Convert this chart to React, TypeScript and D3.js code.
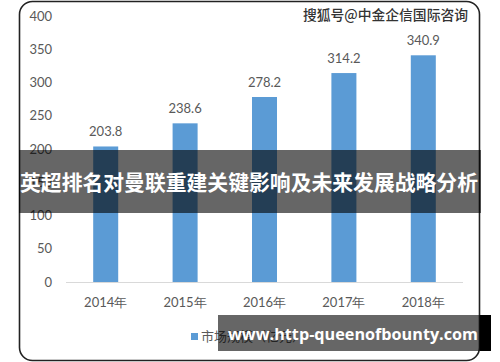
import React from "react";
import * as d3 from "d3";

const categories = ["2014年", "2015年", "2016年", "2017年", "2018年"];
const values = [203.8, 238.6, 278.2, 314.2, 340.9];
const yTicks = [0, 50, 100, 150, 200, 250, 300, 350, 400];
const seriesName = "市场规模（亿元）";
const title = "英超排名对曼联重建关键影响及未来发展战略分析";
const sourceMark = "搜狐号@中金企信国际咨询";
const siteMark = "www.http-queenofbounty.com";

const W = 500;
const H = 362;
const cjk = "'Noto Sans CJK SC', 'Noto Sans', sans-serif";
const num = "Lato, 'Open Sans', sans-serif";

export default function App() {
  const x = d3.scaleBand<string>().domain(categories).range([66, 463]).paddingInner(0.685).paddingOuter(0.3425);
  const y = d3.scaleLinear().domain([0, 400]).range([282, 16]);
  const bw = x.bandwidth();

  return (
    <svg width={W} height={H} style={{ position: "absolute", left: 0, top: 0, background: "#fff" }}>
      <rect x={0} y={0} width={W} height={H} fill="#fff" />
      <rect x={19.5} y={1.5} width={460} height={359} rx={13} ry={13} fill="#fff" stroke="#222" strokeWidth={1.6} />
      {/* source watermark */}
      <text x={468} y={20} textAnchor="end" fontFamily={cjk} fontSize={14} fill="#333" fontWeight={500} textLength={165} lengthAdjust="spacingAndGlyphs">{sourceMark}</text>
      {/* y axis labels */}
      {yTicks.map((t) => (
        <text key={t} x={52} y={y(t)} dy="0.35em" textAnchor="end" fontFamily={num} fontSize={13} fill="#595959">{t}</text>
      ))}
      {/* baseline */}
      <line x1={66} x2={463} y1={y(0) + 0.5} y2={y(0) + 0.5} stroke="#d9d9d9" strokeWidth={1} />
      {/* bars */}
      {values.map((v, i) => (
        <rect key={i} x={x(categories[i])!} y={y(v)} width={bw} height={y(0) - y(v)} fill="#5b9bd5" />
      ))}
      {/* value labels */}
      {values.map((v, i) => (
        <text key={"l" + i} x={x(categories[i])! + bw / 2} y={y(v) - 10} textAnchor="middle" fontFamily={num} fontSize={13} fill="#595959">{v.toFixed(1)}</text>
      ))}
      {/* x labels */}
      {categories.map((c) => (
        <text key={c} x={x(c)! + bw / 2} y={302} dy="0.35em" textAnchor="middle" fontFamily={num} fontSize={13} fill="#595959">{c}</text>
      ))}
      {/* legend */}
      <rect x={191} y={333} width={7} height={7} fill="#5b9bd5" />
      <text x={201} y={341} fontFamily={cjk} fontSize={13} fill="#595959">{seriesName}</text>
      {/* title banner */}
      <rect x={19} y={150} width={462} height={63} fill="#000" fillOpacity={0.6} />
      <text x={20} y={183} dy="0.35em" fontFamily={cjk} fontSize={21} fontWeight={700} fill="#fff" textLength={458} lengthAdjust="spacingAndGlyphs">{title}</text>
      {/* site watermark */}
      <rect x={218} y={315} width={262} height={36} fill="#000" fillOpacity={0.6} />
      <rect x={480} y={315} width={11} height={36} fill="#000" />
      <text x={228} y={334} dy="0.35em" fontFamily="'Open Sans', 'DejaVu Sans', sans-serif" fontSize={16.5} fontWeight={700} fill="#fff" textLength={250} lengthAdjust="spacingAndGlyphs">{siteMark}</text>
    </svg>
  );
}
